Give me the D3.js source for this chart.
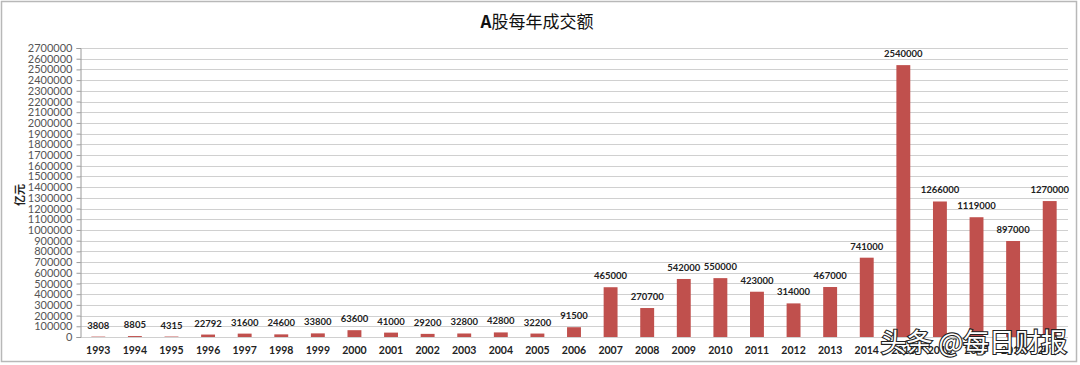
<!DOCTYPE html>
<html>
<head>
<meta charset="utf-8">
<script src="https://cdn.jsdelivr.net/npm/d3@7"></script>
<style>
  body { margin: 0; background: #fff; }
  svg { display: block; }
</style>
</head>
<body>
<div id="chart"></div>
<script>
// data
const years = ["1993","1994","1995","1996","1997","1998","1999","2000","2001","2002",
  "2003","2004","2005","2006","2007","2008","2009","2010","2011","2012","2013",
  "2014","2015","2016","2017","2018","2019"];
const turnover = [3808, 8805, 4315, 22792, 31600, 24600, 33800, 63600, 41000, 29200,
  32800, 42800, 32200, 91500, 465000, 270700, 542000, 550000, 423000, 314000, 467000,
  741000, 2540000, 1266000, 1119000, 897000, 1270000];
const yTicks = d3.range(0, 2700001, 100000);

const width = 1080, height = 365;
const margin = {top: 48, right: 12, bottom: 28, left: 80};
const numFont = "Lato, 'Open Sans', sans-serif";

const svg = d3.select("#chart").append("svg")
    .attr("width", width)
    .attr("height", height);

// outer frame
svg.append("rect")
    .attr("x", 1.5).attr("y", 1.5)
    .attr("width", width - 5).attr("height", height - 5)
    .attr("fill", "none")
    .attr("stroke", "#b8b8b8")
    .attr("stroke-width", 1.5);

const x = d3.scaleBand(years, [margin.left, width - margin.right])
    .paddingInner(0.62)
    .paddingOuter(0.31);
const y = d3.scaleLinear([0, 2700000], [height - margin.bottom, margin.top]);

// gridlines
svg.append("g")
    .selectAll("line")
    .data(yTicks)
    .join("line")
        .attr("x1", margin.left)
        .attr("x2", width - margin.right)
        .attr("y1", d => Math.round(y(d)) + 0.5)
        .attr("y2", d => Math.round(y(d)) + 0.5)
        .attr("stroke", "#d0d0d0");

// y axis
const yAxis = svg.append("g")
    .attr("transform", `translate(${margin.left + 0.5},0)`)
    .call(d3.axisLeft(y).tickValues(yTicks).tickSize(4).tickPadding(4).tickFormat(d3.format("d")));
yAxis.select(".domain").attr("stroke", "#9a9a9a");
yAxis.selectAll(".tick line").attr("stroke", "#9a9a9a");
yAxis.selectAll("text")
    .attr("fill", "#555")
    .style("font", `11px ${numFont}`);

// bars
svg.append("g")
    .attr("fill", "#c0504d")
    .selectAll("rect")
    .data(years)
    .join("rect")
        .attr("x", d => x(d))
        .attr("width", x.bandwidth())
        .attr("y", (d, i) => y(turnover[i]))
        .attr("height", (d, i) => y(0) - y(turnover[i]));

// value labels
svg.append("g")
    .style("font", `bold 9.5px ${numFont}`)
    .attr("fill", "#222")
    .attr("text-anchor", "middle")
    .selectAll("text")
    .data(years)
    .join("text")
        .attr("x", d => x(d) + x.bandwidth() / 2)
        .attr("y", (d, i) => y(turnover[i]) - 8)
        .text((d, i) => turnover[i]);

// x labels
svg.append("g")
    .style("font", `bold 10.5px ${numFont}`)
    .attr("fill", "#222")
    .attr("text-anchor", "middle")
    .selectAll("text")
    .data(years)
    .join("text")
        .attr("x", d => x(d) + x.bandwidth() / 2)
        .attr("y", height - 11)
        .text(d => d);

// title
svg.append("text")
    .attr("x", 537)
    .attr("y", 28)
    .attr("text-anchor", "middle")
    .style("font", "17px 'Noto Sans CJK SC', sans-serif")
    .attr("fill", "#111")
    .call(t => t.append("tspan").attr("font-weight", "bold").text("A"))
    .call(t => t.append("tspan").text("股每年成交额"));

// y axis title
svg.append("text")
    .attr("transform", "translate(24,195) rotate(-90)")
    .attr("text-anchor", "middle")
    .style("font", "bold 11px 'Noto Sans CJK SC', serif")
    .attr("fill", "#222")
    .text("亿元");

// watermark (sits over the last x labels, as in the source image)
svg.append("text")
    .attr("x", 1067)
    .attr("y", 352)
    .attr("text-anchor", "end")
    .style("font", "26px 'Noto Sans CJK SC', sans-serif")
    .attr("fill", "#fff")
    .attr("stroke", "#222")
    .attr("stroke-width", 2.2)
    .attr("paint-order", "stroke")
    .text("头条 @每日财报");
</script>
</body>
</html>
